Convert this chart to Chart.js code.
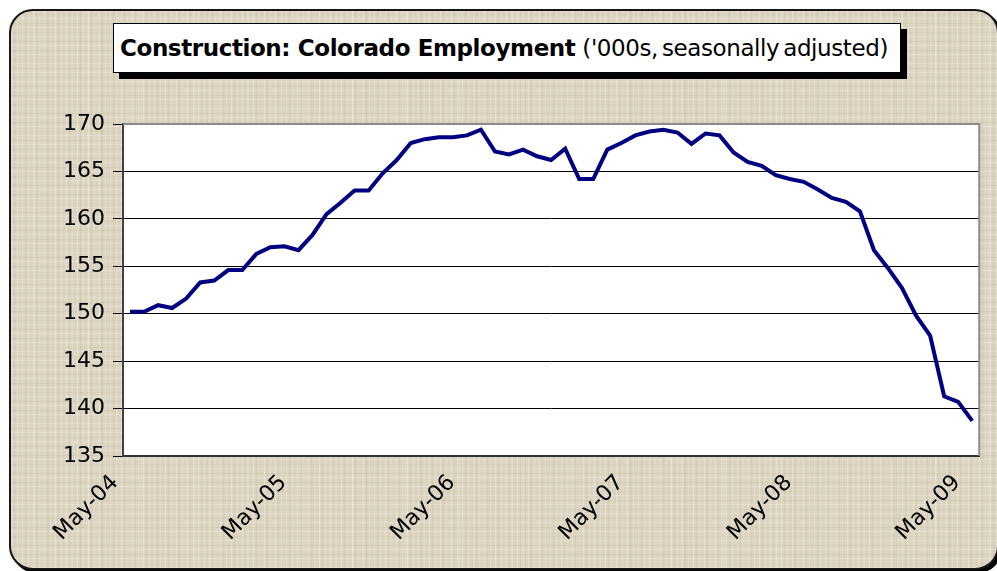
<!DOCTYPE html>
<html>
<head>
<meta charset="utf-8">
<script src="https://cdn.jsdelivr.net/npm/chart.js@4"></script>
<style>
  html, body { margin: 0; padding: 0; width: 997px; height: 571px; overflow: hidden; background: #ffffff; }
  #frame {
    position: absolute; left: 9px; top: 9px; width: 986px; height: 557px;
    border: 2px solid #151515; border-radius: 24px;
    box-shadow: 3px 3px 0 #000;
    background-color: #dcd4c1;
    background-image:
      repeating-linear-gradient(90deg, rgba(255,255,255,0.28) 0 1px, transparent 1px 3px, rgba(120,100,70,0.08) 3px 4px, transparent 4px 6px, rgba(255,255,255,0.15) 6px 7px, transparent 7px 11px),
      repeating-linear-gradient(0deg, rgba(255,255,255,0.22) 0 1px, transparent 1px 4px, rgba(120,100,70,0.07) 4px 5px, transparent 5px 9px),
      repeating-linear-gradient(90deg, transparent 0 23px, rgba(255,255,255,0.12) 23px 25px, transparent 25px 37px, rgba(120,100,70,0.06) 37px 38px, transparent 38px 53px);
  }
  #title {
    position: absolute; left: 113px; top: 23px; width: 780px; height: 48px;
    border: 1px solid #000; background: #fff; box-shadow: 6px 6px 0 #000;
    font-family: "DejaVu Sans", sans-serif; font-size: 23px; line-height: 49px;
    padding-left: 6px; white-space: nowrap; color: #000; letter-spacing: -0.4px;
  }
  #title b { font-weight: bold; }
  #title span { word-spacing: -3px; }
  #c { position: absolute; left: 0; top: 0; }
</style>
</head>
<body>
<div id="frame"></div>
<div id="title"><b>Construction: Colorado Employment</b> <span>('000s, seasonally adjusted)</span></div>
<canvas id="c" width="997" height="571"></canvas>
<script>
// Monthly categories, May 2004 - May 2009
const months = [
  'May-04','Jun-04','Jul-04','Aug-04','Sep-04','Oct-04','Nov-04','Dec-04','Jan-05','Feb-05','Mar-05','Apr-05',
  'May-05','Jun-05','Jul-05','Aug-05','Sep-05','Oct-05','Nov-05','Dec-05','Jan-06','Feb-06','Mar-06','Apr-06',
  'May-06','Jun-06','Jul-06','Aug-06','Sep-06','Oct-06','Nov-06','Dec-06','Jan-07','Feb-07','Mar-07','Apr-07',
  'May-07','Jun-07','Jul-07','Aug-07','Sep-07','Oct-07','Nov-07','Dec-07','Jan-08','Feb-08','Mar-08','Apr-08',
  'May-08','Jun-08','Jul-08','Aug-08','Sep-08','Oct-08','Nov-08','Dec-08','Jan-09','Feb-09','Mar-09','Apr-09',
  'May-09'
];

// Construction employment, thousands
const employment = [
  150.2, 150.2, 150.9, 150.6, 151.6, 153.3, 153.5, 154.6, 154.6, 156.3, 157.0, 157.1,
  156.7, 158.3, 160.5, 161.7, 163.0, 163.0, 164.8, 166.2, 168.0, 168.4, 168.6, 168.6,
  168.8, 169.4, 167.1, 166.8, 167.3, 166.6, 166.2, 167.4, 164.2, 164.2, 167.3, 168.0,
  168.8, 169.2, 169.4, 169.1, 167.9, 169.0, 168.8, 167.0, 166.0, 165.6, 164.6, 164.2,
  163.9, 163.1, 162.2, 161.8, 160.8, 156.7, 154.8, 152.7, 149.8, 147.7, 141.3, 140.7,
  138.7
];

// only these months get a tick + label
const tickLabels = ['May-04', 'May-05', 'May-06', 'May-07', 'May-08', 'May-09'];

const yMin = 135, yMax = 170, yStep = 5;

// white plot area + grey top/right edge like the Excel chart
const plotFrame = {
  id: 'plotFrame',
  beforeDraw(chart) {
    const { ctx, chartArea: a } = chart;
    ctx.save();
    ctx.fillStyle = '#ffffff';
    ctx.fillRect(a.left, a.top, a.right - a.left, a.bottom - a.top);
    ctx.restore();
  },
  beforeDatasetsDraw(chart) {
    const { ctx, chartArea: a } = chart;
    ctx.save();
    ctx.strokeStyle = '#8c8c8c';
    ctx.lineWidth = 2;
    ctx.beginPath();
    ctx.moveTo(a.left, a.top);
    ctx.lineTo(a.right, a.top);
    ctx.lineTo(a.right, a.bottom);
    ctx.stroke();
    ctx.restore();
  }
};

const font = { family: '"DejaVu Sans", sans-serif', size: 22 };

new Chart(document.getElementById('c').getContext('2d'), {
  type: 'line',
  data: {
    labels: months,
    datasets: [{
      data: employment,
      borderColor: '#000080',
      borderWidth: 4,
      pointRadius: 0,
      tension: 0,
      fill: false
    }]
  },
  options: {
    responsive: false,
    animation: false,
    layout: { padding: { top: 124, right: 13, left: 0, bottom: 0 } },
    plugins: { legend: { display: false }, tooltip: { enabled: false } },
    scales: {
      x: {
        type: 'category',
        offset: true,
        afterFit: s => { s.height = 115; },
        border: { color: '#333333', width: 2 },
        grid: {
          offset: true,
          drawOnChartArea: false,
          drawTicks: true,
          tickLength: 8,
          lineWidth: 1,
          color: c => (c.index % 12 === 0 ? '#333333' : 'rgba(0,0,0,0)')
        },
        ticks: {
          autoSkip: false,
          maxRotation: 45,
          minRotation: 45,
          padding: 6,
          labelOffset: -15,
          color: '#000',
          font: font,
          callback: (v, i) => (tickLabels.includes(months[i]) ? months[i] : null)
        }
      },
      y: {
        min: yMin,
        max: yMax,
        afterFit: s => { s.width = 123; },
        border: { color: '#404040', width: 2 },
        grid: { color: '#000000', lineWidth: 1, tickLength: 10 },
        ticks: { stepSize: yStep, padding: 8, color: '#000', font: font }
      }
    }
  },
  plugins: [plotFrame]
});
</script>
</body>
</html>
